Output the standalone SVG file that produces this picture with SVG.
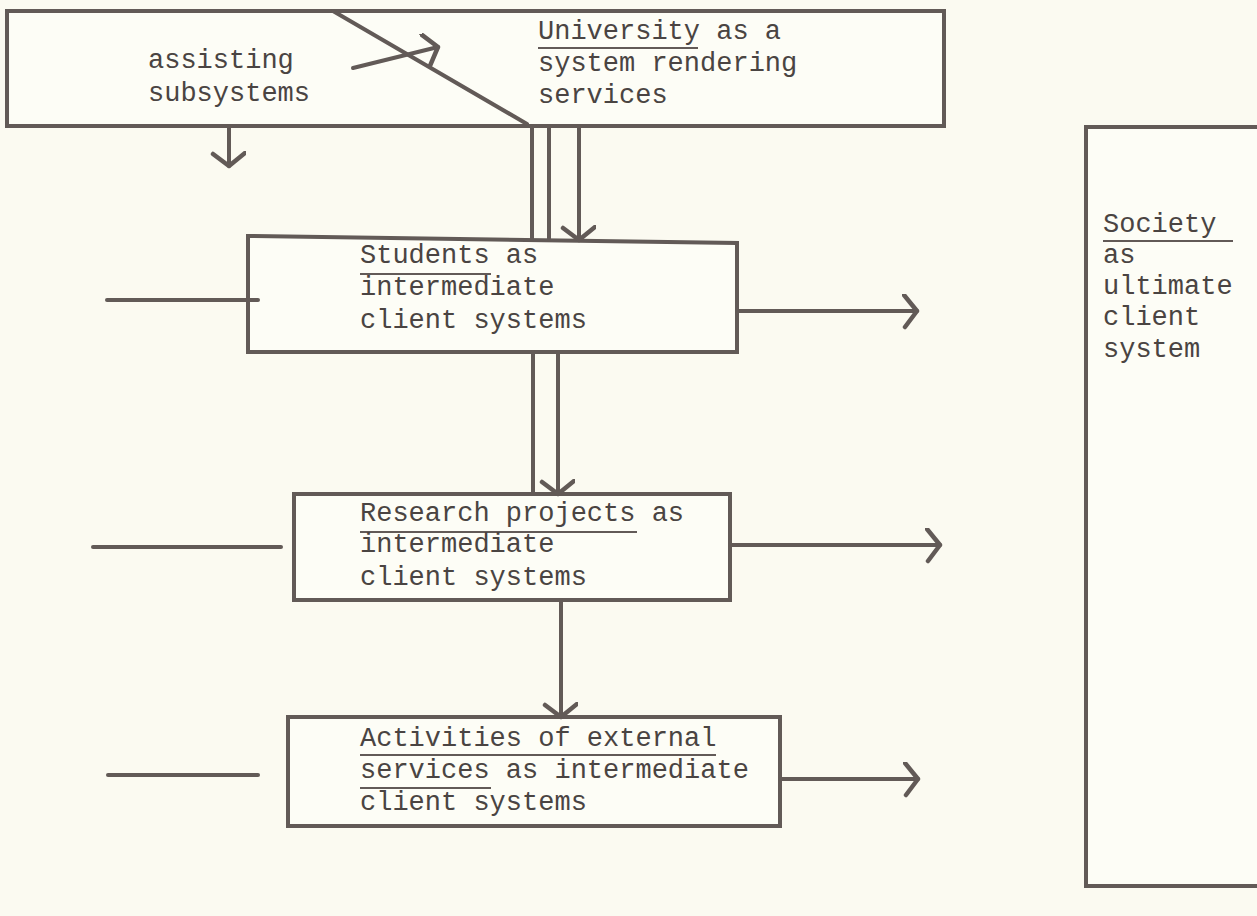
<svg xmlns="http://www.w3.org/2000/svg" width="1257" height="916" viewBox="0 0 1257 916">
<style>
.bg{fill:#fbfaf1}
.box{fill:#fdfdf6;stroke:#625a57;stroke-width:4}
.ln{fill:none;stroke:#625a57;stroke-width:4;stroke-linecap:round}
.t{font-family:"Liberation Mono","DejaVu Sans Mono",monospace;font-size:27px;fill:#4a4442}
.ul{stroke:#625a57;stroke-width:2}
</style>
<defs>
<marker id="ah" markerUnits="userSpaceOnUse" markerWidth="30" markerHeight="40" refX="15" refY="17" orient="auto" viewBox="0 0 30 40">
<path d="M2,1 L15,17 L3,33" fill="none" stroke="#625a57" stroke-width="4.5" stroke-linecap="round" stroke-linejoin="round"/>
</marker>
</defs>
<rect class="bg" x="0" y="0" width="1257" height="916"/>

<g id="university">
<rect class="box" x="7" y="11" width="937" height="115"/>
<text class="t" x="148" y="68">assisting</text>
<text class="t" x="148" y="101">subsystems</text>
<text class="t" x="538" y="39">University as a</text>
<line class="ul" x1="538" y1="48" x2="698" y2="48"/>
<text class="t" x="538" y="71">system rendering</text>
<text class="t" x="538" y="103">services</text>
</g>

<g id="society">
<rect class="box" x="1086" y="127" width="180" height="759"/>
<text class="t" x="1103" y="232">Society</text>
<line class="ul" x1="1103" y1="241" x2="1233" y2="241"/>
<text class="t" x="1103" y="263">as</text>
<text class="t" x="1103" y="294">ultimate</text>
<text class="t" x="1103" y="325">client</text>
<text class="t" x="1103" y="357">system</text>
</g>

<g id="students">
<path class="box" d="M248,236 L737,243 L737,352 L248,352 Z"/>
<text class="t" x="360" y="263">Students as</text>
<line class="ul" x1="360" y1="274" x2="491" y2="274"/>
<text class="t" x="360" y="295">intermediate</text>
<text class="t" x="360" y="328">client systems</text>
</g>

<g id="research">
<rect class="box" x="294" y="494" width="436" height="106"/>
<text class="t" x="360" y="521">Research projects as</text>
<line class="ul" x1="360" y1="532" x2="637" y2="532"/>
<text class="t" x="360" y="552">intermediate</text>
<text class="t" x="360" y="585">client systems</text>
</g>

<g id="activities">
<rect class="box" x="288" y="717" width="492" height="109"/>
<text class="t" x="360" y="746">Activities of external</text>
<line class="ul" x1="360" y1="755" x2="716" y2="755"/>
<text class="t" x="360" y="778">services as intermediate</text>
<line class="ul" x1="360" y1="788" x2="491" y2="788"/>
<text class="t" x="360" y="810">client systems</text>
</g>

<g id="connectors">
<line class="ln" x1="333" y1="11" x2="527" y2="124"/>
<line class="ln" x1="353" y1="68" x2="438" y2="47" marker-end="url(#ah)"/>
<line class="ln" x1="229" y1="126" x2="229" y2="166" marker-end="url(#ah)"/>
<line class="ln" x1="532" y1="126" x2="532" y2="240"/>
<line class="ln" x1="549" y1="126" x2="549" y2="240"/>
<line class="ln" x1="579" y1="126" x2="579" y2="240" marker-end="url(#ah)"/>
<line class="ln" x1="533" y1="352" x2="533" y2="494"/>
<line class="ln" x1="558" y1="352" x2="558" y2="494" marker-end="url(#ah)"/>
<line class="ln" x1="561" y1="600" x2="561" y2="717" marker-end="url(#ah)"/>
<line class="ln" x1="107" y1="300" x2="258" y2="300"/>
<line class="ln" x1="737" y1="311" x2="917" y2="311" marker-end="url(#ah)"/>
<line class="ln" x1="93" y1="547" x2="281" y2="547"/>
<line class="ln" x1="730" y1="545" x2="940" y2="545" marker-end="url(#ah)"/>
<line class="ln" x1="108" y1="775" x2="258" y2="775"/>
<line class="ln" x1="780" y1="779" x2="918" y2="779" marker-end="url(#ah)"/>
</g>
</svg>
